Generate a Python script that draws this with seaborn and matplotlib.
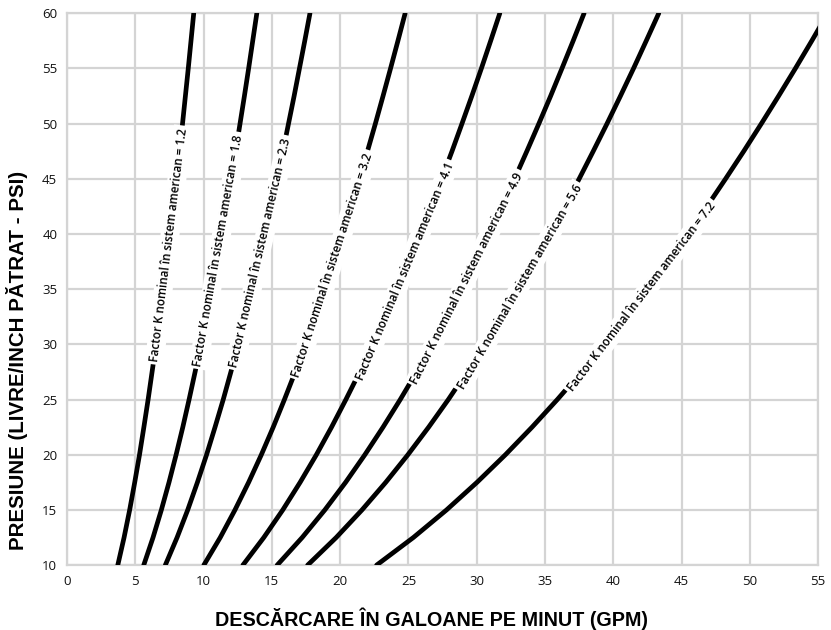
import numpy as np
import pandas as pd
import matplotlib
matplotlib.use("Agg")
import matplotlib.pyplot as plt
import seaborn as sns

# pressure readings (psi) and discharge (gpm)
pressure = [10, 12.5, 15, 17.5, 20, 22.5, 25, 27.5, 30, 32.5, 35,
            37.5, 40, 42.5, 45, 47.5, 50, 52.5, 55, 57.5, 60]
k_factors = ["1.2", "1.8", "2.3", "3.2", "4.1", "4.9", "5.6", "7.2"]
flow_k12 = [3.72, 4.18, 4.59, 4.96, 5.31, 5.63, 5.94, 6.23, 6.52, 6.79, 7.05,
            7.30, 7.55, 7.78, 8.01, 8.24, 8.46, 8.67, 8.88, 9.08, 9.28]
flow_k18 = [5.62, 6.30, 6.91, 7.47, 7.99, 8.48, 8.94, 9.38, 9.80, 10.20, 10.59,
            10.96, 11.32, 11.67, 12.01, 12.35, 12.67, 12.99, 13.30, 13.60, 13.90]
flow_k23 = [7.20, 8.06, 8.84, 9.55, 10.22, 10.84, 11.44, 12.00, 12.54, 13.06, 13.56,
            14.03, 14.50, 14.95, 15.38, 15.81, 16.22, 16.63, 17.02, 17.41, 17.79]
flow_k32 = [10.02, 11.22, 12.30, 13.30, 14.23, 15.10, 15.92, 16.71, 17.45, 18.17, 18.86,
            19.53, 20.18, 20.80, 21.41, 22.00, 22.58, 23.14, 23.69, 24.23, 24.76]
flow_k41 = [12.88, 14.41, 15.80, 17.07, 18.26, 19.37, 20.42, 21.43, 22.39, 23.30, 24.19,
            25.04, 25.86, 26.66, 27.43, 28.19, 28.92, 29.64, 30.34, 31.02, 31.69]
flow_k49 = [15.39, 17.22, 18.88, 20.40, 21.81, 23.14, 24.40, 25.60, 26.74, 27.84, 28.89,
            29.91, 30.89, 31.84, 32.77, 33.67, 34.55, 35.41, 36.24, 37.06, 37.86]
flow_k56 = [17.62, 19.71, 21.60, 23.34, 24.96, 26.48, 27.92, 29.28, 30.59, 31.85, 33.06,
            34.22, 35.35, 36.44, 37.50, 38.53, 39.54, 40.52, 41.48, 42.41, 43.33]
flow_k72 = [22.67, 25.36, 27.79, 30.02, 32.10, 34.05, 35.90, 37.66, 39.34, 40.95, 42.51,
            44.01, 45.46, 46.86, 48.22, 49.55, 50.84, 52.10, 53.33, 54.53, 55.70]
flows = [flow_k12, flow_k18, flow_k23, flow_k32, flow_k41, flow_k49, flow_k56, flow_k72]
# pressure where each curve label is centred
label_at = [39, 38.5, 38.3, 37.2, 36.6, 36.0, 35.2, 34.3]

rows = []
for k, fl in zip(k_factors, flows):
    for p, q in zip(pressure, fl):
        rows.append({"K": k, "gpm": q, "psi": p})
df = pd.DataFrame(rows)

sns.set_style("white")
plt.rcParams["font.family"] = ["Open Sans", "DejaVu Sans"]

fig = plt.figure(figsize=(8.31, 6.30), dpi=100)
ax = fig.add_axes([0.0806, 0.103, 0.904, 0.876])

grid_col = "#d4d4d4"
sns.lineplot(data=df, x="gpm", y="psi", units="K", estimator=None, sort=False,
             color="black", linewidth=3.4, ax=ax, zorder=3, legend=False)

ax.set_xlim(0, 55)
ax.set_ylim(10, 60)
ax.set_xticks(np.arange(0, 56, 5))
ax.set_yticks(np.arange(10, 61, 5))
ax.grid(True, color=grid_col, linewidth=1.6, zorder=0)
ax.set_axisbelow(True)
for s in ax.spines.values():
    s.set_color(grid_col)
    s.set_linewidth(1.6)
ax.tick_params(axis="both", direction="out", length=4, width=1.6, color=grid_col,
               labelsize=9.5, labelcolor="#111111", pad=3)

fig.canvas.draw()
for k, fl, pc in zip(k_factors, flows, label_at):
    qc = np.interp(pc, pressure, fl)
    q1 = np.interp(pc - 1, pressure, fl)
    q2 = np.interp(pc + 1, pressure, fl)
    p1 = ax.transData.transform((q1, pc - 1))
    p2 = ax.transData.transform((q2, pc + 1))
    ang = np.degrees(np.arctan2(p2[1] - p1[1], p2[0] - p1[0]))
    ax.text(qc, pc, "Factor K nominal în sistem american = " + k,
            rotation=ang, rotation_mode="anchor", ha="center", va="center",
            fontsize=8.4, fontweight="semibold", color="black", zorder=4,
            bbox=dict(boxstyle="square,pad=0.25", fc="white", ec="none"))

ax.set_xlabel("DESCĂRCARE ÎN GALOANE PE MINUT (GPM)", fontsize=14.2, fontweight="bold",
              color="black", family=["Liberation Sans", "DejaVu Sans"])
ax.set_ylabel("PRESIUNE (LIVRE/INCH PĂTRAT - PSI)", fontsize=14.8, fontweight="bold",
              color="black", family=["Liberation Sans", "DejaVu Sans"])
ax.xaxis.set_label_coords(0.485, -0.076)
ax.yaxis.set_label_coords(-0.052, 0.371)

fig.savefig("out.png", dpi=100)
